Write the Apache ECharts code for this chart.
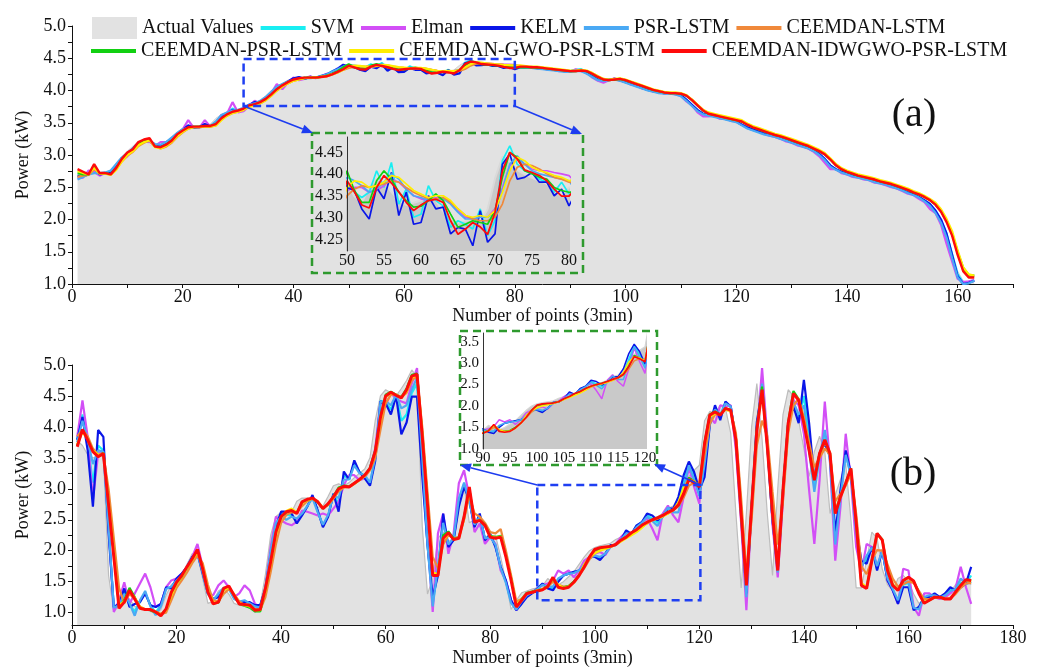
<!DOCTYPE html>
<html>
<head>
<meta charset="utf-8">
<title>Power prediction comparison</title>
<script src="https://cdn.jsdelivr.net/npm/echarts@6.0.0/dist/echarts.min.js"></script>
<style>
  html, body { margin: 0; padding: 0; background: #fff; }
  #chart { width: 1040px; height: 669px; }
</style>
</head>
<body>
<div id="chart"></div>
<script>
const SERIF = '"Liberation Serif", "Times New Roman", serif';

// ------------------ names / colours ------------------
const ACTUAL_NAME = 'Actual Values';
const MODEL_NAMES = ['SVM', 'Elman', 'KELM', 'PSR-LSTM', 'CEEMDAN-LSTM',
    'CEEMDAN-PSR-LSTM', 'CEEMDAN-GWO-PSR-LSTM', 'CEEMDAN-IDWGWO-PSR-LSTM'];
const MODEL_COLORS = ['#19eef2', '#d24ff6', '#0a16e8', '#4aa9f4', '#f0893a', '#12d012', '#ffee00', '#ff0a0a'];

// ------------------ tick labels ------------------
const Y_LABELS = [1.0, 1.5, 2.0, 2.5, 3.0, 3.5, 4.0, 4.5, 5.0];
const Y_TICKS = [1.0, 1.25, 1.5, 1.75, 2.0, 2.25, 2.5, 2.75, 3.0, 3.25, 3.5, 3.75, 4.0, 4.25, 4.5, 4.75, 5.0];
const INSET_A_Y = [4.25, 4.30, 4.35, 4.40, 4.45];
const INSET_B_Y = [1.0, 1.5, 2.0, 2.5, 3.0, 3.5];

// ------------------ (a) data, points 1..163 ------------------
const ACTUAL_A = [
    2.65,2.68,2.74,2.76,2.70,2.72,2.76,2.88,2.98,3.06,
    3.14,3.21,3.24,3.16,3.12,3.15,3.21,3.28,3.36,3.41,
    3.44,3.44,3.45,3.45,3.48,3.57,3.63,3.67,3.69,3.71,
    3.75,3.78,3.81,3.85,3.92,4.00,4.06,4.11,4.16,4.19,
    4.20,4.20,4.20,4.21,4.22,4.25,4.29,4.33,4.37,4.380,
    4.350,4.335,4.370,4.390,4.380,4.360,4.340,4.330,4.335,4.340,
    4.345,4.340,4.315,4.300,4.290,4.292,4.300,4.292,4.320,4.390,
    4.440,4.430,4.410,4.400,4.392,4.385,4.378,4.362,4.350,4.370,
    4.37,4.36,4.36,4.35,4.34,4.33,4.32,4.31,4.30,4.30,
    4.31,4.31,4.27,4.22,4.17,4.16,4.17,4.18,4.16,4.13,
    4.10,4.07,4.04,4.01,3.99,3.97,3.96,3.96,3.95,3.93,
    3.86,3.78,3.70,3.64,3.62,3.60,3.58,3.56,3.54,3.53,
    3.48,3.43,3.40,3.37,3.34,3.31,3.29,3.26,3.23,3.20,
    3.17,3.14,3.11,3.07,3.02,2.94,2.84,2.78,2.74,2.71,
    2.68,2.66,2.64,2.62,2.59,2.57,2.55,2.52,2.49,2.46,
    2.42,2.39,2.35,2.30,2.24,2.14,2.00,1.80,1.50,1.20,
    1.05,1.03,1.05];

const SVM_A = [
    2.66,2.68,2.72,2.76,2.70,2.72,2.74,2.84,2.95,3.02, 3.10,3.18,3.22,3.22,3.15,3.15,3.19,3.25,3.33,3.40,
    3.45,3.42,3.43,3.47,3.44,3.50,3.61,3.65,3.72,3.68, 3.71,3.77,3.81,3.82,3.88,3.97,4.06,4.08,4.13,4.18,
    4.20,4.18,4.21,4.20,4.23,4.24,4.30,4.32,4.38,
    4.378,4.359,4.347,4.359,4.408,4.370,4.427,4.332,4.366,4.302,4.309,4.374,4.340,4.328,4.279,4.294,
    4.286,4.275,4.321,4.260,4.294,4.431,4.465,4.423,4.408,4.401,4.389,4.382,4.359,4.382,4.355,
    4.37,4.36,4.36,4.35,4.34,4.33,4.32,4.31,4.30,4.30, 4.32,4.33,4.27,4.22,4.16,4.16,4.17,4.18,4.16,4.13,
    4.10,4.07,4.04,4.01,3.99,3.97,3.96,3.96,3.95,3.92, 3.85,3.77,3.69,3.64,3.62,3.60,3.58,3.56,3.54,3.52,
    3.47,3.42,3.39,3.36,3.33,3.31,3.29,3.26,3.23,3.20, 3.17,3.14,3.11,3.06,3.01,2.93,2.83,2.78,2.74,2.71,
    2.68,2.66,2.64,2.62,2.59,2.57,2.55,2.52,2.49,2.46, 2.42,2.39,2.35,2.29,2.23,2.13,1.98,1.78,1.46,1.15,
    1.02,1.03,1.06];

const ELMAN_A = [
    2.64,2.65,2.76,2.74,2.68,2.72,2.70,2.84,2.92,2.98, 3.08,3.18,3.22,3.20,3.14,3.20,3.20,3.25,3.32,3.40,
    3.54,3.42,3.42,3.54,3.44,3.50,3.62,3.64,3.82,3.66, 3.68,3.76,3.84,3.80,3.86,3.96,4.10,4.02,4.12,4.20,
    4.16,4.18,4.22,4.19,4.22,4.26,4.27,4.33,4.36,
    4.363,4.370,4.370,4.359,4.363,4.374,4.389,4.382,4.366,4.351,4.344,4.340,4.347,4.347,4.336,4.317,
    4.302,4.298,4.302,4.302,4.321,4.370,4.420,4.435,4.423,4.412,4.408,4.408,4.404,4.401,4.397,
    4.38,4.35,4.37,4.34,4.35,4.32,4.33,4.30,4.31,4.29, 4.33,4.30,4.28,4.20,4.15,4.12,4.16,4.19,4.15,4.14,
    4.09,4.08,4.03,4.02,3.98,3.98,3.95,3.97,3.94,3.92, 3.83,3.77,3.66,3.60,3.60,3.61,3.56,3.57,3.53,3.52,
    3.47,3.42,3.39,3.36,3.33,3.30,3.28,3.25,3.21,3.19, 3.15,3.13,3.10,3.05,2.98,2.88,2.78,2.78,2.72,2.70,
    2.66,2.65,2.62,2.61,2.57,2.56,2.53,2.50,2.48,2.44, 2.40,2.38,2.32,2.27,2.16,2.10,1.92,1.62,1.35,1.08,
    1.03,1.04,1.06];

const KELM_A = [
    2.68,2.67,2.70,2.80,2.70,2.72,2.72,2.83,2.95,3.03, 3.10,3.19,3.23,3.24,3.14,3.14,3.18,3.24,3.33,3.39,
    3.46,3.42,3.43,3.48,3.44,3.49,3.60,3.64,3.70,3.68, 3.72,3.78,3.82,3.82,3.88,3.96,4.05,4.09,4.14,4.19,
    4.21,4.18,4.21,4.20,4.22,4.25,4.29,4.34,4.40,
    4.370,4.363,4.321,4.298,4.370,4.344,4.404,4.306,4.359,4.286,4.290,4.351,4.321,4.325,4.264,4.279,
    4.275,4.237,4.317,4.245,4.264,4.423,4.446,4.389,4.393,4.404,4.382,4.382,4.351,4.366,4.328,
    4.36,4.36,4.35,4.35,4.34,4.33,4.32,4.31,4.30,4.30, 4.31,4.31,4.27,4.22,4.17,4.16,4.17,4.18,4.16,4.13,
    4.10,4.07,4.04,4.01,3.99,3.97,3.96,3.96,3.95,3.93, 3.86,3.78,3.70,3.64,3.62,3.60,3.58,3.56,3.54,3.52,
    3.47,3.43,3.40,3.37,3.34,3.31,3.29,3.26,3.23,3.20, 3.17,3.14,3.11,3.07,3.02,2.94,2.84,2.78,2.74,2.71,
    2.68,2.66,2.64,2.62,2.59,2.57,2.55,2.52,2.49,2.46, 2.42,2.39,2.35,2.30,2.24,2.14,2.00,1.78,1.45,1.12,
    1.00,1.02,1.05];

const PSR_A = [
    2.62,2.66,2.70,2.72,2.72,2.73,2.76,2.86,2.96,3.02, 3.10,3.16,3.20,3.22,3.17,3.16,3.20,3.27,3.34,3.40,
    3.42,3.43,3.43,3.44,3.45,3.52,3.62,3.66,3.69,3.70, 3.73,3.78,3.80,3.84,3.90,3.98,4.06,4.10,4.14,4.16,
    4.18,4.19,4.19,4.20,4.22,4.25,4.29,4.33,4.37,
    4.393,4.385,4.374,4.359,4.366,4.382,4.401,4.389,4.366,4.351,4.347,4.340,4.344,4.344,4.332,4.313,
    4.298,4.298,4.302,4.302,4.313,4.363,4.423,4.442,4.423,4.408,4.401,4.397,4.393,4.389,4.385,
    4.36,4.35,4.35,4.34,4.33,4.32,4.31,4.30,4.29,4.29, 4.30,4.30,4.26,4.21,4.16,4.15,4.16,4.17,4.15,4.12,
    4.09,4.06,4.03,4.00,3.98,3.96,3.95,3.95,3.94,3.91, 3.84,3.76,3.68,3.63,3.61,3.59,3.57,3.55,3.53,3.51,
    3.46,3.41,3.38,3.35,3.32,3.30,3.28,3.25,3.22,3.19, 3.16,3.13,3.10,3.06,3.00,2.92,2.82,2.77,2.73,2.70,
    2.67,2.65,2.63,2.61,2.58,2.56,2.54,2.51,2.48,2.45, 2.41,2.38,2.34,2.28,2.21,2.10,1.95,1.72,1.40,1.10,
    1.00,1.01,1.05];

const CEEMDAN_A = [
    2.66,2.68,2.69,2.78,2.72,2.71,2.70,2.78,2.90,2.99, 3.05,3.14,3.19,3.22,3.14,3.10,3.13,3.19,3.28,3.35,
    3.41,3.43,3.43,3.44,3.44,3.46,3.55,3.61,3.65,3.67, 3.70,3.75,3.77,3.80,3.85,3.92,4.00,4.06,4.11,4.15,
    4.17,4.19,4.20,4.20,4.21,4.22,4.25,4.28,4.32,
    4.351,4.366,4.374,4.370,4.374,4.378,4.385,4.382,4.370,4.359,4.351,4.344,4.344,4.347,4.336,4.321,
    4.306,4.298,4.294,4.294,4.302,4.332,4.385,4.416,4.423,4.420,4.412,4.401,4.393,4.389,4.382,
    4.38,4.37,4.36,4.36,4.35,4.34,4.33,4.32,4.31,4.30, 4.30,4.31,4.30,4.27,4.22,4.18,4.16,4.17,4.18,4.16,
    4.13,4.10,4.07,4.04,4.01,3.99,3.97,3.96,3.96,3.95, 3.92,3.86,3.78,3.70,3.65,3.62,3.60,3.58,3.56,3.54,
    3.52,3.48,3.44,3.40,3.37,3.34,3.31,3.29,3.26,3.23, 3.20,3.17,3.14,3.10,3.06,3.01,2.94,2.86,2.79,2.75,
    2.72,2.69,2.66,2.64,2.62,2.60,2.57,2.55,2.52,2.49, 2.46,2.43,2.39,2.35,2.30,2.24,2.13,1.98,1.78,1.48,
    1.22,1.12,1.12];

const PSR_CEEMDAN_A = [
    2.72,2.70,2.70,2.82,2.71,2.72,2.70,2.80,2.93,3.02, 3.08,3.18,3.22,3.24,3.13,3.12,3.16,3.22,3.31,3.37,
    3.42,3.44,3.44,3.45,3.45,3.48,3.56,3.62,3.66,3.68, 3.71,3.76,3.78,3.81,3.86,3.93,4.01,4.07,4.12,4.16,
    4.18,4.20,4.20,4.20,4.21,4.23,4.26,4.30,4.36,
    4.408,4.363,4.336,4.336,4.385,4.408,4.389,4.359,4.340,4.325,4.327,4.340,4.355,4.340,4.309,4.279,
    4.286,4.294,4.290,4.286,4.317,4.393,4.450,4.439,4.408,4.401,4.393,4.389,4.370,4.363,4.359,
    4.36,4.36,4.36,4.35,4.35,4.34,4.33,4.32,4.31,4.30, 4.30,4.31,4.30,4.26,4.21,4.17,4.16,4.17,4.18,4.16,
    4.13,4.10,4.07,4.04,4.01,3.99,3.97,3.96,3.96,3.95, 3.92,3.85,3.77,3.69,3.64,3.62,3.60,3.58,3.56,3.54,
    3.52,3.47,3.43,3.40,3.37,3.34,3.31,3.29,3.26,3.23, 3.20,3.17,3.14,3.10,3.06,3.01,2.93,2.84,2.78,2.74,
    2.71,2.68,2.66,2.64,2.62,2.59,2.57,2.55,2.52,2.49, 2.46,2.42,2.39,2.35,2.30,2.23,2.13,1.98,1.78,1.50,
    1.25,1.14,1.13];

const GWO_A = [
    2.75,2.72,2.70,2.80,2.71,2.71,2.69,2.77,2.90,3.00, 3.06,3.15,3.20,3.23,3.12,3.10,3.14,3.20,3.29,3.36,
    3.41,3.43,3.43,3.44,3.44,3.46,3.54,3.61,3.65,3.67, 3.70,3.75,3.77,3.80,3.85,3.92,4.00,4.06,4.11,4.15,
    4.17,4.19,4.20,4.20,4.21,4.22,4.25,4.28,4.32,
    4.370,4.385,4.382,4.370,4.374,4.382,4.397,4.393,4.378,4.363,4.355,4.347,4.351,4.351,4.340,4.321,
    4.306,4.302,4.306,4.302,4.317,4.359,4.408,4.439,4.431,4.416,4.408,4.404,4.397,4.393,4.385,
    4.39,4.38,4.37,4.37,4.36,4.35,4.34,4.33,4.32,4.31, 4.31,4.32,4.31,4.27,4.22,4.18,4.17,4.18,4.19,4.17,
    4.14,4.11,4.08,4.05,4.02,4.00,3.98,3.97,3.97,3.96, 3.93,3.86,3.78,3.70,3.66,3.64,3.62,3.60,3.58,3.56,
    3.54,3.49,3.45,3.42,3.39,3.36,3.33,3.31,3.28,3.25, 3.22,3.19,3.16,3.12,3.08,3.03,2.95,2.86,2.80,2.76,
    2.73,2.70,2.68,2.66,2.64,2.61,2.59,2.57,2.54,2.51, 2.48,2.44,2.41,2.37,2.32,2.26,2.16,2.01,1.82,1.52,
    1.26,1.15,1.13];

const IDWGWO_A = [
    2.78,2.74,2.70,2.86,2.72,2.72,2.70,2.80,2.94,3.04, 3.09,3.20,3.24,3.26,3.13,3.12,3.16,3.22,3.32,3.38,
    3.43,3.44,3.44,3.45,3.45,3.48,3.57,3.63,3.67,3.69, 3.72,3.77,3.79,3.82,3.87,3.94,4.02,4.08,4.13,4.17,
    4.19,4.20,4.20,4.20,4.21,4.22,4.25,4.29,4.33,
    4.385,4.360,4.330,4.323,4.370,4.397,4.380,4.360,4.336,4.317,4.330,4.340,4.343,4.336,4.294,4.263,
    4.275,4.290,4.280,4.263,4.313,4.408,4.450,4.435,4.410,4.404,4.397,4.385,4.366,4.350,4.350,
    4.37,4.37,4.36,4.36,4.35,4.34,4.33,4.32,4.31,4.30, 4.30,4.31,4.30,4.26,4.21,4.17,4.16,4.17,4.18,4.16,
    4.13,4.10,4.07,4.04,4.01,3.99,3.97,3.96,3.96,3.95, 3.92,3.85,3.77,3.69,3.64,3.62,3.60,3.58,3.56,3.54,
    3.52,3.47,3.43,3.40,3.37,3.34,3.31,3.29,3.26,3.23, 3.20,3.17,3.14,3.10,3.06,3.01,2.93,2.84,2.78,2.74,
    2.71,2.68,2.66,2.64,2.62,2.59,2.57,2.55,2.52,2.49, 2.46,2.42,2.39,2.35,2.30,2.23,2.12,1.96,1.75,1.45,
    1.20,1.10,1.10];

// ------------------ (b) data, points 1..172 ------------------
const ACTUAL_B = [
    3.78,3.70,3.55,3.50,3.52,3.55,1.60,1.02,1.10,1.25, 1.22,1.10,1.08,1.05,1.02,0.98,1.05,1.28,1.45,1.52,
    1.62,1.78,1.95,1.95,1.55,1.15,1.18,1.35,1.40,1.30, 1.15,1.12,1.10,1.07,1.00,1.12,1.62,2.25,2.55,2.62,
    2.62,2.62,2.80,2.85,2.85,2.82,2.70,2.72,2.88,3.05, 3.08,3.05,3.10,3.18,3.25,3.32,3.50,4.10,4.50,4.60,
    4.55,4.50,4.62,4.75,4.92,4.80,2.40,1.30,1.55,2.20, 2.30,2.15,2.20,2.75,3.05,2.45,2.50,2.40,2.22,2.20,
    2.25,1.90,1.50,1.05,1.20,1.32,1.35,1.38,1.40,1.43, 1.55,1.48,1.45,1.50,1.58,1.66,1.78,1.90,2.00,2.05,
    2.08,2.10,2.12,2.18,2.22,2.28,2.30,2.38,2.45,2.50, 2.52,2.55,2.60,2.68,2.72,2.85,3.05,3.20,3.30,3.38,
    4.10,4.25,4.22,4.35,4.30,3.90,2.60,1.40,2.60,4.00, 4.70,3.80,2.60,1.60,3.00,4.20,4.60,4.50,4.10,3.65,
    3.20,3.60,3.85,3.60,2.60,2.90,3.15,3.40,2.50,1.40, 1.40,1.85,2.30,2.20,1.70,1.45,1.35,1.55,1.60,1.50,
    1.30,1.15,1.20,1.25,1.25,1.22,1.22,1.33,1.45,1.52, 1.50,1.45];

const SVM_B = [
    3.80,4.20,3.72,3.10,3.70,3.62,2.35,1.05,1.15,1.35, 1.12,1.02,1.18,1.32,1.12,1.00,1.12,1.40,1.40,1.54,
    1.62,1.73,1.89,1.98,1.66,1.30,1.22,1.28,1.40,1.40, 1.24,1.17,1.18,1.16,1.10,1.10,1.40,1.98,2.42,2.60,
    2.58,2.57,2.48,2.58,2.72,2.88,2.64,2.40,2.56,2.92, 2.75,3.22,3.15,3.42,3.27,3.20,3.08,3.50,4.42,4.40,
    4.28,4.52,4.10,4.20,4.55,4.70,3.40,2.10,1.15,1.70, 2.50,2.08,2.18,2.78,3.08,2.80,2.40,2.58,2.18,2.25,
    2.08,1.73,1.50,1.18,1.04,1.16,1.27,1.32,1.39,1.46, 1.40,1.40,1.52,1.60,1.63,1.65,1.68,1.76,1.89,1.91,
    1.88,1.95,2.07,2.10,2.17,2.30,2.27,2.40,2.46,2.57, 2.52,2.45,2.55,2.69,2.65,2.75,3.10,3.40,3.20,2.92,
    3.30,4.05,4.30,4.15,4.40,4.33,3.77,2.58,1.30,2.71, 4.00,4.65,3.72,2.50,1.68,2.97,4.06,4.38,4.15,4.50,
    3.80,3.05,3.55,3.85,3.50,2.20,2.90,3.58,3.22,2.40, 1.78,1.85,2.06,1.70,2.00,1.53,1.37,1.17,1.45,1.48,
    1.06,1.07,1.25,1.26,1.30,1.25,1.29,1.38,1.37,1.48, 1.47,1.60];

const ELMAN_B = [
    3.84,4.43,3.84,2.82,3.57,3.60,2.40,1.01,1.20,1.49, 1.14,1.31,1.47,1.63,1.41,1.09,1.14,1.41,1.52,1.55,
    1.63,1.74,1.90,2.11,1.74,1.31,1.28,1.44,1.52,1.41, 1.25,1.31,1.44,1.36,1.14,1.09,1.41,2.06,2.55,2.49,
    2.44,2.41,2.47,2.65,2.63,2.60,2.57,2.60,2.57,2.68, 2.79,3.06,3.22,3.22,3.14,3.17,3.33,3.65,4.41,4.35,
    4.55,4.45,4.41,4.38,4.70,4.95,3.50,2.20,1.01,2.28, 2.60,1.95,2.28,3.09,3.30,2.87,2.30,2.44,2.11,2.22,
    2.11,1.68,1.52,1.20,1.04,1.20,1.31,1.33,1.39,1.44, 1.47,1.52,1.68,1.63,1.68,1.57,1.68,1.84,1.90,1.95,
    1.98,1.93,2.06,2.11,2.22,2.30,2.27,2.38,2.46,2.52, 2.36,2.17,2.60,2.73,2.57,2.46,2.87,3.35,3.03,2.76,
    3.73,4.16,4.06,4.35,4.33,4.35,3.62,2.44,1.04,2.71, 3.84,4.95,3.84,2.41,1.57,2.82,4.06,4.43,4.35,3.89,
    2.98,2.11,3.14,4.41,3.41,1.84,2.71,3.89,3.14,2.06, 1.66,2.11,2.06,1.74,2.01,1.52,1.36,1.14,1.71,1.68,
    1.09,0.95,1.31,1.31,1.25,1.22,1.25,1.31,1.39,1.74, 1.41,1.14];

const KELM_B = [
    3.79,4.16,3.62,2.71,3.95,3.84,2.28,1.09,1.14,1.39, 1.09,1.14,1.17,1.31,1.12,1.09,1.14,1.41,1.39,1.55,
    1.63,1.74,1.90,1.95,1.63,1.31,1.22,1.25,1.39,1.41, 1.25,1.17,1.17,1.17,1.12,1.12,1.39,1.95,2.38,2.63,
    2.63,2.60,2.44,2.57,2.71,2.90,2.65,2.38,2.55,2.92, 2.63,3.28,3.15,3.46,3.27,3.17,3.05,3.45,4.41,4.38,
    4.20,4.50,3.88,4.07,4.49,4.49,3.20,2.10,1.25,1.60, 2.60,2.06,2.17,2.71,3.03,2.82,2.38,2.60,2.17,2.27,
    2.06,1.74,1.52,1.20,1.04,1.14,1.25,1.31,1.39,1.47, 1.39,1.36,1.50,1.60,1.63,1.66,1.68,1.74,1.90,1.90,
    1.85,1.95,2.09,2.09,2.17,2.33,2.27,2.41,2.46,2.60, 2.57,2.49,2.55,2.68,2.68,2.87,3.22,3.44,3.27,2.98,
    3.19,4.03,4.35,4.11,4.41,4.33,3.79,2.60,1.31,2.71, 4.08,4.60,3.68,2.49,1.68,2.98,4.06,4.33,4.06,4.76,
    4.06,3.14,3.57,3.73,3.52,2.28,2.98,3.62,3.25,2.38, 1.84,1.79,2.06,1.68,2.01,1.52,1.36,1.14,1.41,1.41,
    1.04,1.09,1.25,1.25,1.31,1.25,1.31,1.41,1.36,1.41, 1.47,1.74];

const PSR_B = [
    3.75,4.10,3.80,3.40,3.62,3.60,2.40,1.08,1.12,1.30, 1.15,0.95,1.20,1.35,1.10,0.96,1.10,1.38,1.42,1.52,
    1.60,1.72,1.88,1.96,1.65,1.30,1.20,1.30,1.40,1.38, 1.22,1.18,1.20,1.15,1.10,1.08,1.40,2.00,2.45,2.55,
    2.50,2.55,2.52,2.60,2.72,2.85,2.62,2.42,2.58,2.90, 2.85,3.15,3.15,3.38,3.25,3.22,3.10,3.50,4.40,4.42,
    4.35,4.52,4.30,4.35,4.60,4.80,3.50,2.10,1.10,1.75, 2.45,2.10,2.20,2.85,3.10,2.80,2.42,2.55,2.20,2.22,
    2.10,1.72,1.48,1.15,1.05,1.18,1.28,1.33,1.38,1.45, 1.42,1.42,1.55,1.60,1.63,1.64,1.68,1.78,1.88,1.92,
    1.90,1.95,2.06,2.10,2.18,2.28,2.27,2.38,2.45,2.55, 2.48,2.40,2.56,2.70,2.62,2.62,3.00,3.38,3.15,2.88,
    3.40,4.08,4.28,4.20,4.38,4.33,3.75,2.55,1.25,2.71, 3.95,4.70,3.75,2.50,1.65,2.95,4.06,4.40,4.20,4.35,
    3.60,2.95,3.50,3.95,3.45,2.10,2.85,3.55,3.20,2.30, 1.72,1.92,2.05,1.75,2.00,1.55,1.38,1.20,1.50,1.50,
    1.08,1.05,1.25,1.28,1.28,1.24,1.28,1.35,1.38,1.55, 1.46,1.50];

const CEEMDAN_B = [
    3.85,3.95,3.85,3.65,3.55,3.55,3.00,2.20,1.40,1.15, 1.30,1.22,1.10,1.05,1.05,1.02,0.98,1.00,1.20,1.40,
    1.52,1.65,1.80,1.92,1.80,1.45,1.20,1.18,1.30,1.38, 1.30,1.18,1.12,1.10,1.06,1.04,1.25,1.65,2.10,2.45,
    2.58,2.62,2.62,2.72,2.80,2.84,2.80,2.70,2.74,2.84, 2.96,3.02,3.03,3.08,3.14,3.20,3.30,3.50,3.95,4.38,
    4.52,4.52,4.48,4.55,4.75,4.82,4.00,2.95,1.90,1.72, 2.10,2.25,2.20,2.22,2.50,2.90,2.60,2.55,2.45,2.30,
    2.28,2.35,2.00,1.60,1.18,1.22,1.30,1.33,1.35,1.37, 1.42,1.50,1.45,1.42,1.43,1.50,1.60,1.72,1.86,1.96,
    2.02,2.05,2.07,2.10,2.16,2.21,2.27,2.32,2.38,2.44, 2.49,2.52,2.56,2.60,2.65,2.72,2.86,3.05,3.10,3.05,
    3.55,4.05,4.20,4.20,4.28,4.26,3.90,2.85,1.65,2.50, 3.70,4.10,3.85,2.95,2.10,2.80,3.90,4.35,4.45,4.15,
    3.75,3.35,3.50,3.65,3.55,2.80,2.92,3.05,3.25,2.60, 1.75,1.62,1.85,2.01,2.00,1.78,1.55,1.42,1.46,1.50,
    1.48,1.35,1.22,1.22,1.25,1.25,1.23,1.23,1.30,1.40, 1.47,1.48];

const PSR_CEEMDAN_B = [
    3.70,3.94,3.80,3.62,3.54,3.58,2.78,1.95,1.10,1.20, 1.40,1.25,1.08,1.05,1.04,1.00,0.96,1.05,1.30,1.47,
    1.58,1.72,1.86,2.00,1.72,1.35,1.15,1.16,1.37,1.42, 1.28,1.14,1.11,1.08,1.02,1.02,1.36,1.80,2.28,2.55,
    2.62,2.66,2.61,2.78,2.82,2.85,2.78,2.68,2.75,2.88, 3.02,3.05,3.04,3.09,3.15,3.22,3.34,3.62,4.16,4.52,
    4.57,4.52,4.48,4.62,4.84,4.86,3.88,2.80,1.62,1.62, 2.25,2.31,2.20,2.21,2.55,3.00,2.46,2.50,2.42,2.24,
    2.22,2.24,1.92,1.55,1.10,1.22,1.32,1.34,1.36,1.38, 1.43,1.55,1.43,1.41,1.43,1.50,1.61,1.75,1.90,2.01,
    2.04,2.05,2.07,2.10,2.16,2.22,2.28,2.34,2.41,2.46, 2.50,2.53,2.57,2.62,2.66,2.74,2.93,3.18,3.12,3.04,
    3.75,4.20,4.25,4.20,4.30,4.27,3.80,2.62,1.46,2.72, 3.97,4.65,3.70,2.62,1.70,2.98,4.08,4.58,4.45,4.08,
    3.63,3.15,3.57,3.78,3.57,2.62,2.88,3.10,3.33,2.47, 1.46,1.40,1.85,2.28,2.18,1.70,1.45,1.37,1.52,1.57,
    1.51,1.32,1.16,1.20,1.25,1.25,1.22,1.22,1.33,1.44, 1.53,1.52];

const GWO_B = [
    3.72,3.92,3.80,3.62,3.55,3.57,2.80,1.98,1.12,1.18, 1.35,1.24,1.09,1.05,1.05,1.01,0.97,1.04,1.28,1.46,
    1.58,1.72,1.85,1.98,1.74,1.36,1.16,1.17,1.36,1.41, 1.29,1.15,1.12,1.10,1.04,1.04,1.35,1.78,2.25,2.53,
    2.64,2.68,2.62,2.77,2.82,2.84,2.79,2.69,2.75,2.86, 2.99,3.03,3.03,3.08,3.14,3.21,3.32,3.58,4.10,4.48,
    4.55,4.52,4.47,4.58,4.80,4.84,3.90,2.82,1.65,1.62, 2.18,2.27,2.19,2.20,2.52,3.00,2.48,2.49,2.41,2.23,
    2.21,2.23,1.92,1.55,1.12,1.22,1.31,1.33,1.36,1.38, 1.42,1.55,1.45,1.40,1.42,1.48,1.60,1.78,1.90,1.96,
    2.00,2.03,2.06,2.10,2.15,2.20,2.25,2.30,2.37,2.45, 2.50,2.52,2.55,2.60,2.66,2.78,3.02,3.15,3.12,3.05,
    3.70,4.16,4.22,4.20,4.28,4.26,3.82,2.65,1.50,2.68, 3.92,4.58,3.72,2.65,1.72,2.95,4.02,4.52,4.45,4.10,
    3.65,3.18,3.55,3.76,3.58,2.65,2.86,3.08,3.30,2.50, 1.48,1.41,1.83,2.26,2.18,1.70,1.46,1.37,1.51,1.56,
    1.50,1.32,1.17,1.20,1.25,1.25,1.22,1.22,1.32,1.43, 1.52,1.51];

const IDWGWO_B = [
    3.68,3.96,3.79,3.60,3.52,3.57,2.74,1.90,1.07,1.17, 1.36,1.22,1.07,1.05,1.05,1.01,0.95,1.06,1.33,1.49,
    1.60,1.74,1.87,2.02,1.71,1.33,1.14,1.17,1.39,1.43, 1.28,1.14,1.13,1.12,1.04,1.05,1.39,1.82,2.30,2.55,
    2.63,2.65,2.60,2.79,2.83,2.85,2.79,2.68,2.76,2.87, 3.00,3.04,3.03,3.09,3.15,3.22,3.33,3.60,4.15,4.50,
    4.56,4.51,4.47,4.60,4.82,4.85,3.85,2.75,1.60,1.60, 2.20,2.29,2.18,2.20,2.55,3.03,2.46,2.49,2.41,2.22,
    2.20,2.22,1.90,1.52,1.09,1.20,1.31,1.33,1.35,1.37, 1.42,1.57,1.41,1.39,1.41,1.49,1.60,1.74,1.90,2.02,
    2.05,2.06,2.07,2.10,2.17,2.22,2.29,2.34,2.41,2.46, 2.50,2.53,2.57,2.62,2.66,2.74,2.92,3.15,3.10,3.03,
    3.73,4.19,4.24,4.19,4.30,4.27,3.79,2.60,1.44,2.71, 3.95,4.60,3.68,2.60,1.68,2.98,4.06,4.54,4.43,4.06,
    3.62,3.14,3.57,3.79,3.57,2.60,2.87,3.09,3.33,2.46, 1.44,1.39,1.84,2.28,2.17,1.68,1.44,1.36,1.52,1.57,
    1.51,1.31,1.15,1.20,1.25,1.25,1.22,1.22,1.33,1.44, 1.53,1.52];

const MODELS_A = [SVM_A, ELMAN_A, KELM_A, PSR_A, CEEMDAN_A, PSR_CEEMDAN_A, GWO_A, IDWGWO_A];
const MODELS_B = [SVM_B, ELMAN_B, KELM_B, PSR_B, CEEMDAN_B, PSR_CEEMDAN_B, GWO_B, IDWGWO_B];

// zoomed windows (data units) drawn as blue dashed boxes
const ZOOM_A = {x0: 31, x1: 80, y0: 3.76, y1: 4.49};
const ZOOM_B = {x0: 89, x1: 120.2, y0: 1.2, y1: 3.06};

// ------------------ helpers ------------------
function toPairs(values) {
    return values.map(function (v, i) { return [i + 1, v]; });
}

function onStep(v, step) {
    let k = v / step;
    return Math.abs(k - Math.round(k)) < 1e-6;
}

function buildSeries(axisIndex, actual, models, st) {
    let list = [{
        name: ACTUAL_NAME, type: 'line', xAxisIndex: axisIndex, yAxisIndex: axisIndex,
        data: toPairs(actual), symbol: 'none', z: st.z, silent: true,
        itemStyle: {color: '#e2e2e2'},
        lineStyle: {color: st.actualLine, width: st.actualWidth},
        areaStyle: {color: st.fill, opacity: 1, origin: 'start'}
    }];
    models.forEach(function (vals, k) {
        list.push({
            name: MODEL_NAMES[k], type: 'line', xAxisIndex: axisIndex, yAxisIndex: axisIndex,
            data: toPairs(vals), symbol: 'none', z: st.z, silent: true,
            itemStyle: {color: MODEL_COLORS[k]},
            lineStyle: {color: MODEL_COLORS[k], width: k === 7 ? st.redWidth : st.width}
        });
    });
    return list;
}

const TXT = {fontFamily: SERIF, color: '#111'};

function mainX(grid, max, gap) {
    return {
        type: 'value', gridIndex: grid, min: 0, max: max, interval: 10,
        name: 'Number of points (3min)', nameLocation: 'middle', nameGap: gap,
        nameTextStyle: Object.assign({fontSize: 18}, TXT),
        axisLine: {onZero: false, lineStyle: {color: '#111', width: 1}},
        axisTick: {length: 4, lineStyle: {color: '#111'}},
        axisLabel: Object.assign({fontSize: 18, margin: 4, formatter: function (v) {
            return onStep(v, 20) ? String(v) : '';
        }}, TXT),
        splitLine: {show: false}
    };
}

function mainY(grid, min) {
    return {
        type: 'value', gridIndex: grid, min: min, max: 5,
        name: 'Power (kW)', nameLocation: 'middle', nameGap: 37,
        nameTextStyle: Object.assign({fontSize: 18}, TXT),
        axisLine: {show: true, onZero: false, lineStyle: {color: '#111', width: 1}},
        axisTick: {show: true, length: 4, customValues: Y_TICKS, lineStyle: {color: '#111'}},
        axisLabel: Object.assign({fontSize: 18, margin: 6, customValues: Y_LABELS, formatter: function (v) {
            return v.toFixed(1);
        }}, TXT),
        splitLine: {show: false}
    };
}

function insetX(grid, min, max, size) {
    return {
        type: 'value', gridIndex: grid, min: min, max: max, interval: 5, z: 6,
        axisLine: {show: false}, axisTick: {show: false}, splitLine: {show: false},
        axisLabel: Object.assign({fontSize: size, margin: 2}, TXT)
    };
}

function insetY(grid, min, max, labels, digits, size) {
    return {
        type: 'value', gridIndex: grid, min: min, max: max, z: 6,
        axisLine: {show: true, onZero: false, lineStyle: {color: '#333', width: 1}},
        axisTick: {show: false}, splitLine: {show: false},
        axisLabel: Object.assign({fontSize: size, margin: 4, customValues: labels, formatter: function (v) {
            return v.toFixed(digits);
        }}, TXT)
    };
}

const LINE_ICON = 'path://M0,0h45v4h-45z';

let series = []
    .concat(buildSeries(0, ACTUAL_A, MODELS_A, {z: 2, fill: '#e2e2e2', actualLine: '#d4d4d4', actualWidth: 1, width: 2.2, redWidth: 2.4}))
    .concat(buildSeries(1, ACTUAL_A, MODELS_A, {z: 4, fill: '#c9c9c9', actualLine: '#dadada', actualWidth: 2, width: 1.7, redWidth: 1.8}))
    .concat(buildSeries(2, ACTUAL_B, MODELS_B, {z: 2, fill: '#e2e2e2', actualLine: '#bdbdbd', actualWidth: 1.2, width: 2.2, redWidth: 3}))
    .concat(buildSeries(3, ACTUAL_B, MODELS_B, {z: 4, fill: '#c9c9c9', actualLine: '#d6d6d6', actualWidth: 1.2, width: 1.5, redWidth: 1.7}));

let option = {
    animation: false,
    backgroundColor: '#fff',
    legend: [{
        left: 87, top: 12, itemWidth: 45, itemHeight: 22, itemGap: 7, selectedMode: false,
        textStyle: Object.assign({fontSize: 20}, TXT),
        data: [{name: ACTUAL_NAME, icon: 'rect', itemStyle: {color: '#e2e2e2', borderWidth: 0}}]
            .concat(MODEL_NAMES.slice(0, 5).map(function (n) { return {name: n, icon: LINE_ICON}; }))
    }, {
        left: 86, top: 36, itemWidth: 45, itemHeight: 22, itemGap: 7, selectedMode: false,
        textStyle: Object.assign({fontSize: 20}, TXT),
        data: MODEL_NAMES.slice(5).map(function (n) { return {name: n, icon: LINE_ICON}; })
    }],
    grid: [
        {left: 72, top: 26, width: 941, height: 258},
        {left: 347, top: 137, width: 222, height: 114},
        {left: 72, top: 365, width: 941, height: 260},
        {left: 483, top: 333, width: 162, height: 116}
    ],
    xAxis: [mainX(0, 170, 19), insetX(1, 50, 80, 16), mainX(2, 180, 24), insetX(3, 90, 120, 15)],
    yAxis: [mainY(0, 1), insetY(1, 4.225, 4.485, INSET_A_Y, 2, 16), mainY(2, 0.8), insetY(3, 1.0, 3.7, INSET_B_Y, 1, 15)],
    series: series
};

let chart = echarts.init(document.getElementById('chart'));
chart.setOption(option);

// ------------------ annotations ------------------
function px(grid, x, y) {
    return chart.convertToPixel({gridIndex: grid}, [x, y]);
}

function dashedBox(x0, y0, x1, y1, color, z, fill) {
    return {
        type: 'rect', z: z, silent: true,
        shape: {x: x0, y: y0, width: x1 - x0, height: y1 - y0},
        style: {fill: fill || 'none', stroke: color, lineWidth: 2.5, lineDash: [8, 5]}
    };
}

function arrow(x0, y0, x1, y1) {
    let dx = x1 - x0, dy = y1 - y0;
    let len = Math.sqrt(dx * dx + dy * dy);
    let ux = dx / len, uy = dy / len;
    let bx = x1 - ux * 11, by = y1 - uy * 11;
    return [{
        type: 'line', z: 12, silent: true,
        shape: {x1: x0, y1: y0, x2: bx, y2: by},
        style: {stroke: '#1d3cf0', lineWidth: 1.6}
    }, {
        type: 'polygon', z: 12, silent: true,
        shape: {points: [[x1, y1], [bx - uy * 4.5, by + ux * 4.5], [bx + uy * 4.5, by - ux * 4.5]]},
        style: {fill: '#1d3cf0'}
    }];
}

let za0 = px(0, ZOOM_A.x0, ZOOM_A.y1), za1 = px(0, ZOOM_A.x1, ZOOM_A.y0);
let zb0 = px(2, ZOOM_B.x0, ZOOM_B.y1), zb1 = px(2, ZOOM_B.x1, ZOOM_B.y0);

let INSET_BOX_A = [312, 133, 583, 273];
let INSET_BOX_B = [460, 331, 657, 465];

let elements = [
    dashedBox(INSET_BOX_B[0], INSET_BOX_B[1], INSET_BOX_B[2], INSET_BOX_B[3], 'none', 3, '#ffffff'),
    dashedBox(za0[0], za0[1], za1[0], za1[1], '#1f3ff2', 11),
    dashedBox(zb0[0], zb0[1], zb1[0], zb1[1], '#1f3ff2', 11),
    dashedBox(INSET_BOX_A[0], INSET_BOX_A[1], INSET_BOX_A[2], INSET_BOX_A[3], '#2e9a2e', 11),
    dashedBox(INSET_BOX_B[0], INSET_BOX_B[1], INSET_BOX_B[2], INSET_BOX_B[3], '#2e9a2e', 11),
    {type: 'text', z: 12, silent: true, style: {text: '(a)', x: 914, y: 115, align: 'center', verticalAlign: 'middle', font: '40px ' + SERIF, fill: '#111'}},
    {type: 'text', z: 12, silent: true, style: {text: '(b)', x: 913, y: 474, align: 'center', verticalAlign: 'middle', font: '40px ' + SERIF, fill: '#111'}}
];
elements = elements
    .concat(arrow(za0[0], za1[1], INSET_BOX_A[0] + 1, INSET_BOX_A[1]))
    .concat(arrow(za1[0], za1[1], INSET_BOX_A[2] - 1, INSET_BOX_A[1] + 1))
    .concat(arrow(zb0[0], zb0[1], INSET_BOX_B[0], INSET_BOX_B[3]))
    .concat(arrow(zb1[0], zb0[1], INSET_BOX_B[2] - 3, INSET_BOX_B[3] - 1));

chart.setOption({graphic: {elements: elements}});
</script>
</body>
</html>
